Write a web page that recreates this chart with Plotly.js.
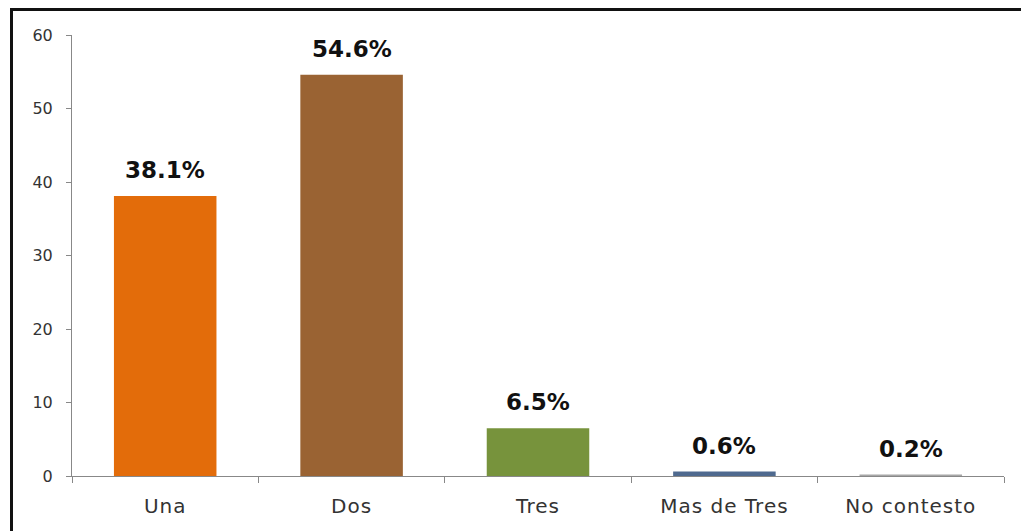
<!DOCTYPE html>
<html>
<head>
<meta charset="utf-8">
<script src="https://cdn.plot.ly/plotly-3.0.1.min.js"></script>
<style>
html,body{margin:0;padding:0;background:#fff;}
#frame{position:absolute;left:10px;top:8px;width:1011px;height:523px;border-top:3px solid #111;border-left:3px solid #111;box-sizing:border-box;}
#chart{position:absolute;left:0;top:0;width:1021px;height:531px;}
#chart .xtick text{letter-spacing:1px;}
</style>
</head>
<body>
<div id="chart"></div>
<div id="frame"></div>
<script>
const categories = ["Una", "Dos", "Tres", "Mas de Tres", "No contesto"];
const values = [38.1, 54.6, 6.5, 0.6, 0.2];
const labels = ["38.1%", "54.6%", "6.5%", "0.6%", "0.2%"];
const colors = ["#E36C0A", "#9A6333", "#77933C", "#4F6A8F", "#A6A6A6"];
const yTicks = [0, 10, 20, 30, 40, 50, 60];

const trace = {
  type: "bar",
  x: categories,
  y: values,
  marker: {color: colors},
  width: 0.55,
  hoverinfo: "none"
};

const annotations = categories.map((c, i) => ({
  x: c, y: values[i], text: labels[i],
  xref: "x", yref: "y",
  yanchor: "bottom", showarrow: false, yshift: 11,
  font: {family: "DejaVu Sans", size: 23, color: "#111", weight: "bold"}
}));

const layout = {
  width: 1021, height: 531,
  margin: {l: 72, r: 17, t: 35, b: 55},
  paper_bgcolor: "#fff", plot_bgcolor: "#fff",
  showlegend: false,
  xaxis: {
    showline: true, linecolor: "#888", linewidth: 1,
    ticks: "outside", tickson: "boundaries", ticklen: 6, tickcolor: "#888",
    tickfont: {family: "DejaVu Sans", size: 20, color: "#333"},
    ticklabelstandoff: 12,
    showgrid: false, zeroline: false, fixedrange: true
  },
  yaxis: {
    range: [0, 60], tickvals: yTicks,
    showline: true, linecolor: "#888", linewidth: 1,
    ticks: "outside", ticklen: 5, tickcolor: "#888",
    tickfont: {family: "DejaVu Sans", size: 16, color: "#333"},
    ticklabelstandoff: 10,
    showgrid: false, zeroline: false, fixedrange: true
  },
  annotations: annotations
};

Plotly.newPlot("chart", [trace], layout, {displayModeBar: false, staticPlot: true});
</script>
</body>
</html>
